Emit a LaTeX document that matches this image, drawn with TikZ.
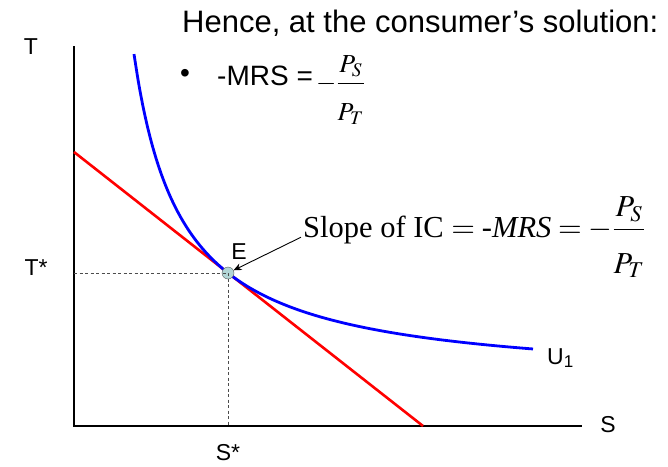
\documentclass[tikz,border=0pt]{standalone}
\usepackage{amsmath}
\usepackage{mathptmx}
\usepackage{fontspec}
\setmainfont{Liberation Sans}
\newfontfamily\slopefont{Liberation Serif}
\usetikzlibrary{arrows.meta}
\newcommand{\priceratio}{\dfrac{P_S}{\rule{0pt}{1.3em}P_T}}

\begin{document}
\begin{tikzpicture}[x=1pt,y=-1pt,>={Stealth[length=8pt,width=7pt]},axis/.style={line width=2.2pt},guide/.style={dashed, dash pattern=on 3pt off 2.5pt, gray!60!black, line width=0.8pt},lbl/.style={font=\fontsize{23}{26}\selectfont, inner sep=0pt},point/.style={circle, draw=gray!70!black, fill={rgb,255:red,178;green,214;blue,214}, minimum size=12pt, inner sep=0pt}]
\useasboundingbox (0,0) rectangle (668,466);
\node[anchor=base west, inner sep=0pt, font=\fontsize{31}{36}\selectfont] (head) at (182,32) {Hence, at the consumer's solution:};
\node[font=\fontsize{28}{32}\selectfont, inner sep=0pt] (bullet) at (185,76) {\textbullet};\node[anchor=base west, inner sep=0pt, font=\fontsize{28}{32}\selectfont] (mrs) at (217,85) {-MRS =};\node[anchor=base west, inner sep=0pt, font=\fontsize{26}{32}\selectfont] (ratio) at (316,90) {$-\priceratio$};
% axes
\coordinate (O) at (74,426);\coordinate (Ttop) at (74,46);\coordinate (Send) at (582,426);
\draw[axis] (Ttop) -- (O) -- (Send);
\node[lbl] (Tlab) at (31,47) {T};\node[lbl] (Slab) at (608,425) {S};
% budget line and indifference curve
\coordinate (Bt) at (74,152);\coordinate (Bs) at (423,426);
\draw[red, line width=2.6pt] (Bt) -- (Bs);
\draw[blue, line width=2.8pt] plot[domain=134:533, samples=90, smooth] (\x, {426-41.7-15784/(\x-86.2)}) coordinate (Uend);
\node[lbl, anchor=west] (U1) at (547,358) {U\textsubscript{1}};
% solution point
\node[point] (E) at (228,273) {};
\draw[guide] (O |- E) -- (E.center) -- (E.center |- O);
\node[lbl] (Elab) at (239,252) {E};\node[lbl] (Tstar) at (36,268) {T*};\node[lbl] (Sstar) at (228,453) {S*};
\node[anchor=base west, inner sep=2pt, font=\slopefont\fontsize{30.5}{34}\selectfont] (slope) at (301,237) {Slope of IC $=\textit{-MRS}=-\priceratio$};
\draw[->, line width=0.9pt] (slope.west) -- (E);
\end{tikzpicture}
\end{document}
